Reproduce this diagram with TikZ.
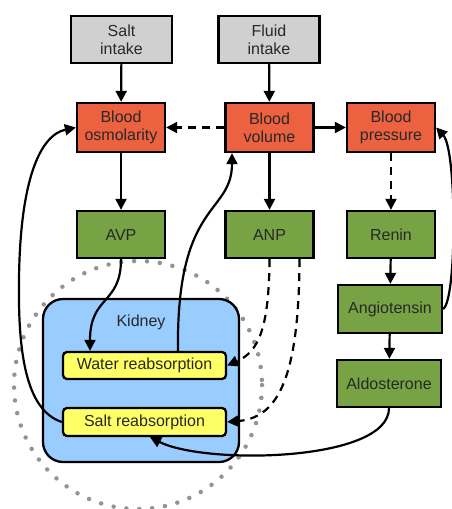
\documentclass[tikz,border=0pt]{standalone}
\usepackage{fontspec}
\setmainfont{Liberation Sans}
\usepackage{xcolor}
\usetikzlibrary{arrows.meta}
\definecolor{boxgray}{RGB}{208,208,208}
\definecolor{bloodred}{RGB}{236,97,64}
\definecolor{hormgreen}{RGB}{119,163,69}
\definecolor{kidblue}{RGB}{153,204,255}
\definecolor{reyellow}{RGB}{255,255,102}
\definecolor{txtgray}{RGB}{40,40,40}
\tikzset{
  box/.style={draw, line width=2.3pt, align=center, text=txtgray,
    font=\fontsize{16}{18}\selectfont, inner sep=0pt},
  intake/.style={box, fill=boxgray, minimum width=101pt, minimum height=47pt},
  blood/.style={box, fill=bloodred, minimum width=88pt, minimum height=49pt},
  hormone/.style={box, fill=hormgreen, minimum width=88pt, minimum height=47pt},
  reab/.style={box, fill=reyellow, rounded corners=4pt, minimum width=163pt, minimum height=27pt},
  arr/.style={line width=2.2pt, -{Triangle[length=11pt,width=11pt]}},
  darr/.style={arr, dash pattern=on 8pt off 6pt},
}
\begin{document}
\begin{tikzpicture}[x=1pt,y=-1pt]
\useasboundingbox (0,0) rectangle (451,509);
\draw[line width=4.5pt, gray!85, line cap=round, dash pattern=on 0pt off 12.9pt] (138,385) circle (124);
\filldraw[line width=2.3pt, fill=kidblue, rounded corners=20pt] (43,299) rectangle (239,462);
\node[text=txtgray, font=\fontsize{16}{18}\selectfont] (kidney) at (141,322) {Kidney};

\node[intake] (salt) at (121.5,39.5) {Salt\\intake};
\node[intake] (fluid) at (269,39.5) {Fluid\\intake};
\node[blood] (osm) at (121,127.5) {Blood\\osmolarity};
\node[blood] (vol) at (269.5,127.5) {Blood\\volume};
\node[blood] (pres) at (391,127.5) {Blood\\pressure};
\node[hormone] (avp) at (121,234.5) {AVP};
\node[hormone] (anp) at (269.5,234.5) {ANP};
\node[hormone] (renin) at (391,234.5) {Renin};
\node[hormone, minimum width=104pt, minimum height=48pt] (angio) at (390,309) {Angiotensin};
\node[hormone, minimum width=104pt] (aldo) at (389,383.5) {Aldosterone};
\node[reab] (water) at (144.5,365.5) {Water reabsorption};
\node[reab, minimum height=28pt] (saltre) at (144.5,422) {Salt reabsorption};

\draw[arr] (salt) -- (osm);
\draw[arr] (fluid) -- (vol);
\draw[darr] (vol) -- (osm);
\draw[arr] (vol) -- (pres);
\draw[arr] (osm) -- (avp);
\draw[arr] (vol) -- (anp);
\draw[darr] (pres) -- (renin);
\draw[arr] (renin) -- (angio);
\draw[arr] (angio) -- (aldo);
\draw[arr] (angio.east) .. controls (457,300) and (457,150) .. (pres.east);
\draw[arr] (avp.south) .. controls (121,305) and (90,295) .. ([xshift=-54.5pt]water.north);
\draw[arr] ([xshift=33.5pt]water.north) .. controls (176,200) and (232,215) .. ([xshift=-37.5pt]vol.south);
\draw[arr] (saltre.west) .. controls (25,410) and (18,350) .. (19,280) .. controls (20,180) and (40,135) .. (osm.west);
\draw[darr] (anp.south) .. controls (269,330) and (258,352) .. (water.east);
\draw[darr] ([xshift=30pt]anp.south) .. controls (299,385) and (275,418) .. (saltre.east);
\draw[arr] (aldo.south) .. controls (389,462) and (205,465) .. ([xshift=5.5pt]saltre.south);
\end{tikzpicture}
\end{document}
